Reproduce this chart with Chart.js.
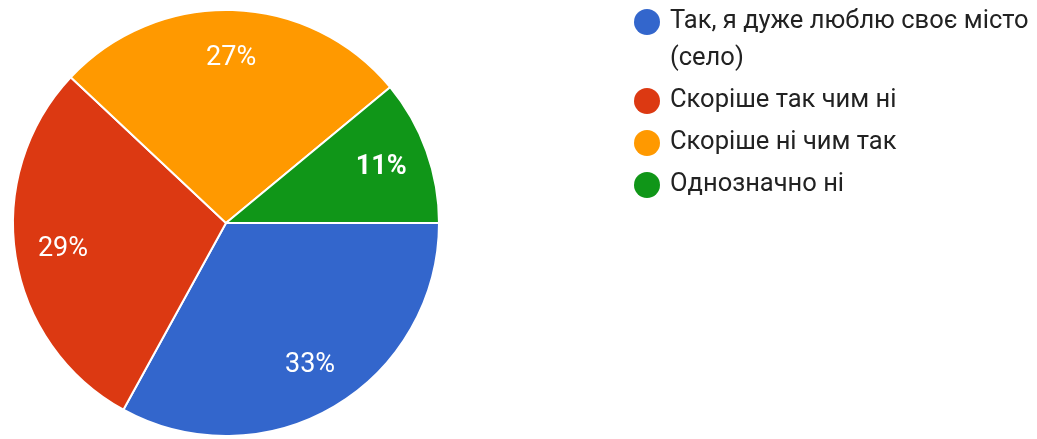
<!DOCTYPE html>
<html>
<head>
<meta charset="utf-8">
<script src="https://cdn.jsdelivr.net/npm/chart.js@4"></script>
<style>
  html, body { margin: 0; padding: 0; background: #fff; }
  #wrap { width: 1037px; height: 439px; position: relative; }
</style>
</head>
<body>
<div id="wrap"><canvas id="pieChart"></canvas></div>
<script>
// dados
const categorias = [
  ['Так, я дуже люблю своє місто', '(село)'],
  ['Скоріше так чим ні'],
  ['Скоріше ні чим так'],
  ['Однозначно ні']
];
const valores = [33, 29, 27, 11];
const cores = ['#3366CC', '#DC3912', '#FF9900', '#109618'];
const negrito = [false, false, false, true];

const FONTE = 'Roboto, "Liberation Sans", Arial, sans-serif';

/* rotulos de percentagem dentro das fatias */
const rotulosPlugin = {
  id: 'rotulos',
  afterDatasetsDraw(chart) {
    const ctx = chart.ctx;
    const meta = chart.getDatasetMeta(0);
    const total = valores.reduce((a, b) => a + b, 0);
    ctx.save();
    ctx.fillStyle = '#fff';
    ctx.textAlign = 'center';
    ctx.textBaseline = 'middle';
    meta.data.forEach((arc, i) => {
      const p = arc.getProps(['x', 'y', 'startAngle', 'endAngle', 'outerRadius']);
      const meio = (p.startAngle + p.endAngle) / 2;
      const r = p.outerRadius * 0.775;
      ctx.font = (negrito[i] ? 'bold ' : '') + '27px ' + FONTE;
      ctx.fillText(Math.round(valores[i] / total * 100) + '%', p.x + Math.cos(meio) * r, p.y + Math.sin(meio) * r);
    });
    ctx.restore();
  }
};

/* legenda desenhada a mao (com quebra de linha) */
const legendaPlugin = {
  id: 'legendaLado',
  afterDraw(chart) {
    const ctx = chart.ctx;
    const x0 = 647, linha = 37, espaco = 5;
    let y = 22;
    ctx.save();
    ctx.font = '25.5px ' + FONTE;
    ctx.textBaseline = 'middle';
    categorias.forEach((linhas, i) => {
      ctx.fillStyle = cores[i];
      ctx.beginPath();
      ctx.arc(x0, y, 13, 0, Math.PI * 2);
      ctx.fill();
      ctx.fillStyle = '#222';
      linhas.forEach((t, k) => ctx.fillText(t, x0 + 23, y + k * linha));
      y += linhas.length * linha + espaco;
    });
    ctx.restore();
  }
};

document.addEventListener('DOMContentLoaded', () => {
  const ctx = document.getElementById('pieChart').getContext('2d');

  new Chart(ctx, {
    type: 'pie',
    data: {
      labels: categorias.map(l => l.join(' ')),
      datasets: [{
        data: valores,
        backgroundColor: cores,
        borderColor: '#fff',
        borderWidth: 2
      }]
    },
    options: {
      responsive: true,
      maintainAspectRatio: false,
      animation: false,
      rotation: 90,
      radius: 213,
      layout: { padding: { top: 7, bottom: 0, left: 0, right: 585 } },
      plugins: {
        legend: { display: false },
        tooltip: { enabled: false }
      }
    },
    plugins: [rotulosPlugin, legendaPlugin]
  });
});
</script>
</body>
</html>
